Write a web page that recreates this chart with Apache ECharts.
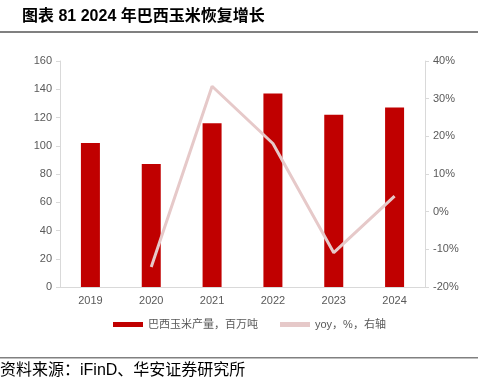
<!DOCTYPE html>
<html>
<head>
<meta charset="utf-8">
<script src="https://cdn.jsdelivr.net/npm/echarts@6/dist/echarts.min.js"></script>
<style>
  html, body { margin: 0; padding: 0; background: #fff; }
  #chart { width: 482px; height: 391px; }
</style>
</head>
<body>
<div id="chart"></div>
<script>
// 数据
const years = ['2019', '2020', '2021', '2022', '2023', '2024']
const output = [102, 87, 116, 137, 122, 127]
const yoy = [null, -14.7, 33.3, 18.1, -10.9, 4.1]

const chart = echarts.init(document.getElementById('chart'))
const font = '"Liberation Sans", "Noto Sans CJK SC", sans-serif'
const axisColor = '#595959'
const lineColor = '#d9d9d9'

const option = {
  animation: false,
  textStyle: { fontFamily: font },
  graphic: [
    {
      type: 'text', left: 22, top: 9,
      style: { text: '图表 81 2024 年巴西玉米恢复增长', font: 'bold 16px ' + font, fill: '#000' }
    },
    { type: 'rect', shape: { x: 0, y: 31, width: 478, height: 2 }, style: { fill: '#808080' } },
    { type: 'rect', shape: { x: 0, y: 357, width: 478, height: 1.5 }, style: { fill: '#808080' } },
    {
      type: 'text', left: 0, top: 363,
      style: { text: '资料来源：iFinD、华安证券研究所', font: '16px ' + font, fill: '#000' }
    }
  ],
  grid: { left: 60, right: 57, top: 61, bottom: 104 },
  legend: {
    bottom: 56,
    left: 108,
    itemWidth: 30,
    itemHeight: 5,
    itemGap: 22,
    textStyle: { color: axisColor, fontSize: 11 },
    data: [
      { name: '巴西玉米产量，百万吨', icon: 'rect' },
      { name: 'yoy，%，右轴', icon: 'rect' }
    ]
  },
  xAxis: {
    type: 'category',
    data: years,
    axisLine: { lineStyle: { color: lineColor } },
    axisTick: { show: false },
    axisLabel: { color: axisColor, fontSize: 11, margin: 8 }
  },
  yAxis: [
    {
      type: 'value', min: 0, max: 160, interval: 20,
      axisLine: { show: true, lineStyle: { color: lineColor } },
      axisTick: { show: true, length: 4, lineStyle: { color: lineColor } },
      splitLine: { show: false },
      axisLabel: { color: axisColor, fontSize: 11, margin: 8 }
    },
    {
      type: 'value', min: -20, max: 40, interval: 10,
      axisLine: { show: true, lineStyle: { color: lineColor } },
      axisTick: { show: true, length: 4, lineStyle: { color: lineColor } },
      splitLine: { show: false },
      axisLabel: { color: axisColor, fontSize: 11, margin: 8, formatter: '{value}%' }
    }
  ],
  series: [
    {
      name: '巴西玉米产量，百万吨',
      type: 'bar',
      data: output,
      barWidth: 19,
      itemStyle: { color: '#c00000' }
    },
    {
      name: 'yoy，%，右轴',
      type: 'line',
      yAxisIndex: 1,
      data: yoy,
      symbol: 'none',
      lineStyle: { color: '#e6c9c9', width: 3 },
      itemStyle: { color: '#e6c9c9' }
    }
  ]
}

chart.setOption(option)
</script>
</body>
</html>
